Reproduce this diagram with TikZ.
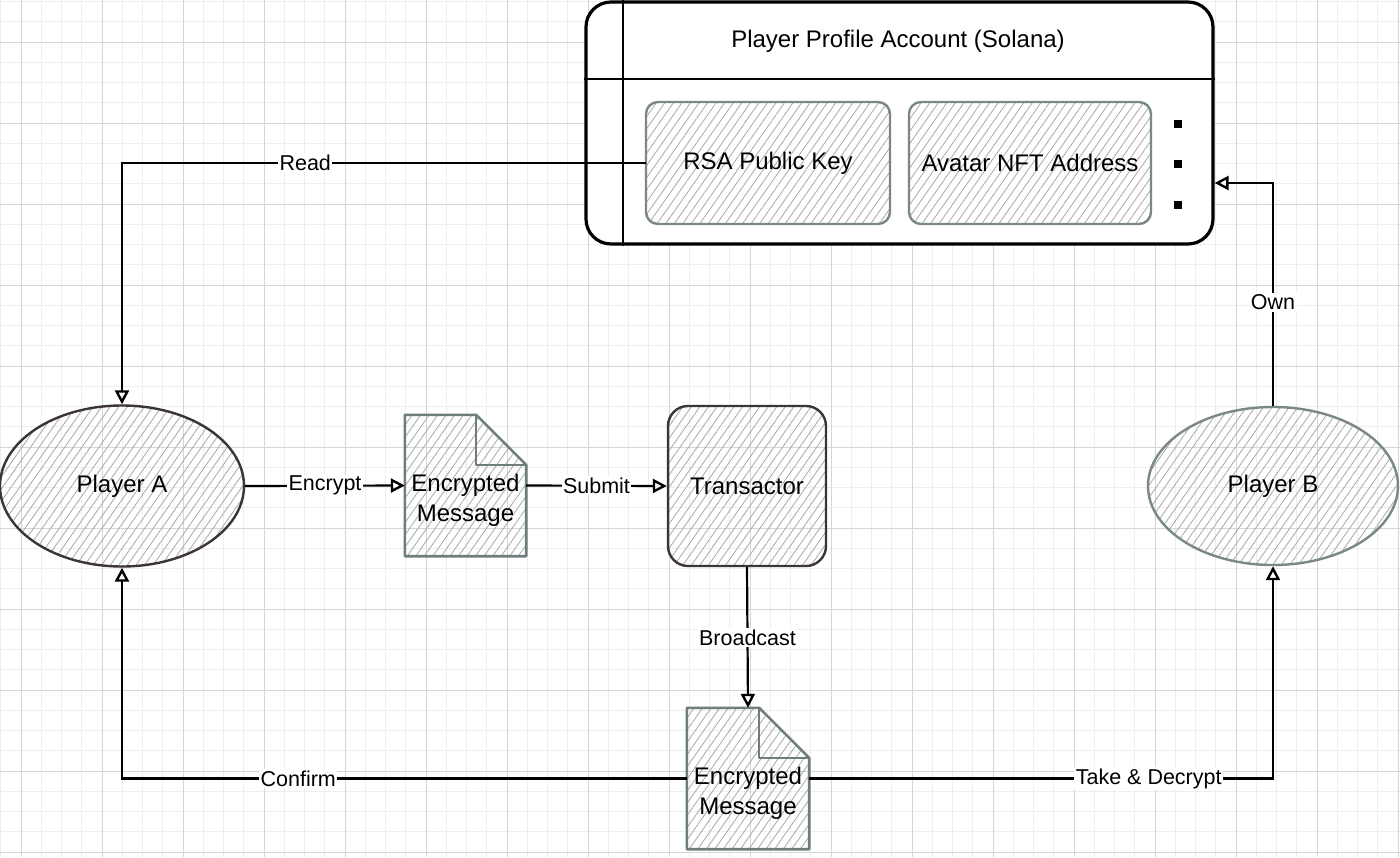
\documentclass[tikz,border=0pt]{standalone}
\usepackage{fontspec}
\setmainfont{Liberation Sans}
\usetikzlibrary{shapes.geometric,arrows.meta,patterns.meta}
\definecolor{gridminor}{HTML}{EEEEEE}
\definecolor{gridmajor}{HTML}{D6D6D6}
\definecolor{darkedge}{HTML}{3D3535}
\definecolor{grayedge}{HTML}{7A8888}
\definecolor{docedge}{HTML}{6E7E7E}
\definecolor{hatch}{HTML}{A8A8A8}
\tikzset{
  hatched/.style={pattern={Lines[angle=55,distance=7pt,line width=0.8pt]},pattern color=hatch},
  nodetext/.style={font=\fontsize{24}{30}\selectfont,align=center,text=black},
  ellip/.style={ellipse,draw,line width=2.4pt,hatched,inner sep=0pt,nodetext},
  boxed/.style={rectangle,draw,line width=2.4pt,hatched,inner sep=0pt,nodetext},
  docnode/.style={rectangle,inner sep=0pt},
  docshape/.style={draw=docedge,line width=2.6pt,hatched,line join=round},
  conn/.style={draw=black,line width=2.2pt,-{Triangle[open,length=14pt,width=14pt,line width=2.4pt]}},
  elabel/.style={fill=white,inner sep=1.5pt,font=\fontsize{21.5}{25}\selectfont,text=black},
}
\begin{document}
\begin{tikzpicture}[x=1pt,y=-1pt]
\useasboundingbox (0,0) rectangle (1400,857);
\fill[white] (0,0) rectangle (1400,857);
% grid
\foreach \i in {0,...,69} \draw[gridminor,line width=0.9pt] (0.75+20.25*\i,0) -- (0.75+20.25*\i,857);
\foreach \j in {0,...,42} \draw[gridminor,line width=0.9pt] (0,1.5+20.25*\j) -- (1400,1.5+20.25*\j);
\foreach \k in {0,...,17} \draw[gridmajor,line width=1pt] (21+81*\k,0) -- (21+81*\k,857);
\foreach \k in {0,...,10} \draw[gridmajor,line width=1pt] (0,42+81*\k) -- (1400,42+81*\k);

% profile account
\node[rectangle,draw=black,line width=3.2pt,fill=white,rounded corners=25pt,minimum width=627pt,minimum height=242pt,inner sep=0pt] (prof) at (899.5,123) {};
\draw[line width=2pt] ([xshift=39pt]prof.north west) -- ([xshift=39pt]prof.south west);
\draw[line width=2pt] ([yshift=-79pt]prof.north west) -- ([yshift=-79pt]prof.north east);
\node[nodetext] (title) at (898,41) {Player Profile Account (Solana)};
\node[boxed,draw=grayedge,rounded corners=12pt,minimum width=244pt,minimum height=122pt] (rsa) at (768,163) {RSA Public Key};
\node[boxed,draw=grayedge,rounded corners=12pt,minimum width=242pt,minimum height=122pt] (nft) at (1030,163) {Avatar NFT Address};
\fill[black] (1174,120) rectangle +(8,8);
\fill[black] (1174,160) rectangle +(8,8);
\fill[black] (1174,201) rectangle +(8,8);

% players and transactor
\node[ellip,draw=darkedge,minimum width=244pt,minimum height=161pt] (pa) at (122,486) {Player A};
\node[ellip,draw=grayedge,minimum width=250pt,minimum height=158pt] (pb) at (1273,486) {Player B};
\node[boxed,draw=darkedge,rounded corners=20pt,minimum width=158pt,minimum height=160pt] (tx) at (747,486) {Transactor};

% documents
\node[docnode,minimum width=121pt,minimum height=141pt] (d1) at (465.5,485.5) {};
\node[docnode,minimum width=122pt,minimum height=141pt] (d2) at (748,778.5) {};
\foreach \d in {d1,d2}{
  \path[docshape] (\d.north west) -- ([xshift=-50pt]\d.north east) -- ([yshift=-50pt]\d.north east) -- (\d.south east) -- (\d.south west) -- cycle;
  \draw[docedge,line width=2.4pt,line join=round] ([xshift=-50pt]\d.north east) -- ([xshift=-50pt,yshift=-50pt]\d.north east) -- ([yshift=-50pt]\d.north east);
}
\node[nodetext] (d1text) at ([yshift=-15pt]d1.center) {Encrypted\\Message};
\node[nodetext] (d2text) at ([yshift=-15pt]d2.center) {Encrypted\\Message};

% connectors
\draw[conn] (rsa.west) -| node[elabel,pos=0.325] {Read} (pa.north);
\draw[conn] (pa.east) -- node[elabel] {Encrypt} (d1.west);
\draw[conn] (d1.east) -- node[elabel] {Submit} (tx.west);
\draw[conn] (tx.south) -- node[elabel] {Broadcast} (d2.north);
\draw[conn] (d2.west) -| node[elabel,pos=0.344] {Confirm} (pa.south);
\draw[conn] (d2.east) -| node[elabel,pos=0.366] {Take \& Decrypt} (pb.south);
\draw[conn] (pb.north) |- node[elabel,pos=0.232] {Own} ([yshift=-60pt]prof.east);
\end{tikzpicture}
\end{document}
